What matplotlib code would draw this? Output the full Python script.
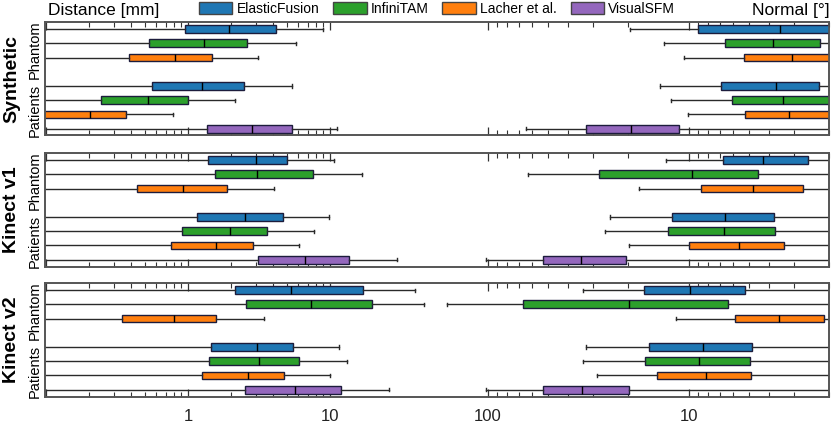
import matplotlib
matplotlib.use("Agg")
import matplotlib.pyplot as plt
from matplotlib.patches import Patch
from matplotlib.transforms import blended_transform_factory

plt.rcParams['font.family'] = ['Liberation Sans', 'DejaVu Sans']

methods = ['ElasticFusion', 'InfiniTAM', 'Lacher et al.', 'VisualSFM']
colors = ['#1f77b4', '#2ca02c', '#ff7f0e', '#9467bd']
datasets = ['Synthetic', 'Kinect v1', 'Kinect v2']

# rows: phantom (EF, InfiniTAM, Lacher), gap, patients (EF, InfiniTAM, Lacher, VisualSFM)
row_pos = [1, 2, 3, 5, 6, 7, 8]
row_method = [0, 1, 2, 0, 1, 2, 3]

# (whislo, q1, med, q3, whishi) -- distance [mm]
dist_synthetic = [(0.03, 0.96, 1.94, 4.17, 8.97),
                  (0.03, 0.534, 1.30, 2.62, 5.76),
                  (0.03, 0.384, 0.806, 1.47, 3.10),
                  (0.03, 0.558, 1.26, 2.47, 5.37),
                  (0.03, 0.243, 0.520, 0.995, 2.15),
                  (0.03, 0.08, 0.205, 0.368, 0.78),
                  (0.03, 1.37, 2.84, 5.37, 11.3)]
dist_kinect1 = [(0.03, 1.38, 3.0, 5.0, 10.6),
                (0.03, 1.55, 3.05, 7.55, 16.7),
                (0.03, 0.437, 0.918, 1.87, 4.03),
                (0.03, 1.16, 2.53, 4.64, 9.89),
                (0.03, 0.907, 1.97, 3.62, 7.68),
                (0.03, 0.763, 1.57, 2.88, 6.08),
                (0.03, 3.13, 6.70, 13.7, 29.8)]
dist_kinect2 = [(0.03, 2.13, 5.29, 17.1, 39.7),
                (0.03, 2.55, 7.39, 19.9, 46.1),
                (0.03, 0.343, 0.793, 1.57, 3.43),
                (0.03, 1.46, 3.08, 5.52, 11.6),
                (0.03, 1.40, 3.18, 6.08, 13.2),
                (0.03, 1.25, 2.66, 4.77, 10.0),
                (0.03, 2.53, 5.70, 11.9, 26.0)]

# (whislo, q1, med, q3, whishi) -- normal [deg]
normal_synthetic = [(1.0, 1.8, 3.50, 9.0, 19.5),
                    (1.0, 2.23, 3.81, 6.59, 13.2),
                    (1.0, 1.9, 3.06, 5.31, 10.6),
                    (1.0, 2.25, 3.67, 6.9, 13.9),
                    (1.0, 1.95, 3.40, 6.07, 12.2),
                    (1.0, 1.9, 3.17, 5.25, 10.1),
                    (1.0, 11.2, 19.3, 32.5, 64.2)]
normal_kinect1 = [(1.0, 2.55, 4.25, 6.71, 13.0),
                  (1.0, 4.50, 9.59, 27.9, 63.0),
                  (1.0, 2.69, 4.79, 8.65, 17.6),
                  (1.0, 3.77, 6.59, 12.1, 24.6),
                  (1.0, 3.71, 6.67, 12.6, 26.1),
                  (1.0, 3.36, 5.60, 9.96, 19.9),
                  (1.0, 20.6, 34.2, 53.1, 102)]
normal_kinect2 = [(1.0, 5.26, 9.89, 16.6, 33.6),
                  (1.0, 6.37, 19.7, 67.0, 159),
                  (1.0, 2.12, 3.56, 5.90, 11.6),
                  (1.0, 4.82, 8.45, 15.8, 32.3),
                  (1.0, 4.97, 8.89, 16.4, 33.6),
                  (1.0, 4.87, 8.20, 14.4, 28.6),
                  (1.0, 19.9, 34.0, 53.1, 102)]

dist_all = [dist_synthetic, dist_kinect1, dist_kinect2]
normal_all = [normal_synthetic, normal_kinect1, normal_kinect2]

dist_lim = (0.0985, 32700)
normal_lim = (16000, 2.0)
dist_major = [0.1, 1, 10]
dist_minor = [0.2, 0.3, 0.4, 0.5, 0.6, 0.7, 0.8, 0.9, 2, 3, 4, 5, 6, 7, 8, 9]
normal_major = [100, 10]
normal_minor = [90, 80, 70, 60, 50, 40, 30, 20, 9, 8, 7, 6, 5, 4, 3, 2]

W, H = 831, 423
fig = plt.figure(figsize=(W / 100, H / 100), dpi=100)

panel_tops = [22, 153, 283]
panel_h = 113.5
x0, x1 = 45, 829
spine_col = '#555555'


def draw_boxes(ax, stats):
    for (lo, q1, med, q3, hi), pos, m in zip(stats, row_pos, row_method):
        st = dict(whislo=lo, q1=q1, med=med, q3=q3, whishi=hi, fliers=[])
        ax.bxp([st], positions=[pos], widths=0.55, orientation='horizontal',
               patch_artist=True, showfliers=False, manage_ticks=False,
               capwidths=0.22,
               boxprops=dict(facecolor=colors[m], edgecolor='#1c1c3c', linewidth=1.0),
               medianprops=dict(color='black', linewidth=1.0),
               whiskerprops=dict(color='#2a2a2a', linewidth=1.0),
               capprops=dict(color='#2a2a2a', linewidth=1.0))


for i, name in enumerate(datasets):
    top = panel_tops[i]
    ax = fig.add_axes([x0 / W, 1 - (top + panel_h) / H, (x1 - x0) / W, panel_h / H])
    ax2 = ax.twiny()
    last = i == len(datasets) - 1

    ax.set_xscale('log')
    ax.set_xlim(*dist_lim)
    ax2.set_xscale('log')
    ax2.set_xlim(*normal_lim)

    draw_boxes(ax, dist_all[i])
    draw_boxes(ax2, normal_all[i])
    ax.set_ylim(8.48, 0.5)
    ax.set_yticks([])

    for a, major, minor, labels in [(ax, dist_major, dist_minor, ['', '1', '10']),
                                     (ax2, normal_major, normal_minor, ['100', '10'])]:
        a.set_xticks(major)
        a.set_xticks(minor, minor=True)
        a.set_xticklabels(labels if last else [''] * len(major))
        a.set_xticklabels([], minor=True)
        a.xaxis.set_ticks_position('both')
        a.tick_params(axis='x', which='both', direction='in', top=True, bottom=True,
                      labelbottom=last, labeltop=False, colors='#333333',
                      labelcolor='#222222', labelsize=12, pad=9)
        a.tick_params(axis='x', which='major', length=6, width=0.9)
        a.tick_params(axis='x', which='minor', length=3.5, width=0.8)
        for sp in a.spines.values():
            sp.set_color(spine_col)
            sp.set_linewidth(1.2)

    # left labels
    tr = blended_transform_factory(fig.transFigure, ax.transData)
    ax.text(35 / W, 2.45, 'Phantom', transform=tr, rotation=90, ha='center',
            va='center', fontsize=10.5)
    ax.text(35 / W, 6.75, 'Patients', transform=tr, rotation=90, ha='center',
            va='center', fontsize=10.5)
    tr2 = blended_transform_factory(fig.transFigure, ax.transAxes)
    ax.text(12 / W, 0.5, name, transform=tr2, rotation=90, ha='center',
            va='center', fontsize=14, fontweight='bold')

fig.text(48 / W, 1 - 10 / H, 'Distance [mm]', ha='left', va='center', fontsize=12.5)
fig.text(830 / W, 1 - 10 / H, 'Normal [°]', ha='right', va='center', fontsize=12.5)

handles = [Patch(facecolor=c, edgecolor='#444444', linewidth=1.0, label=m)
           for m, c in zip(methods, colors)]
fig.legend(handles=handles, loc='center', bbox_to_anchor=(437 / W, 1 - 9 / H),
           ncol=4, frameon=False, fontsize=10, handlelength=2.4, handleheight=0.95,
           handletextpad=0.3, columnspacing=1.0, borderpad=0)

fig.savefig('out.png', dpi=100)
